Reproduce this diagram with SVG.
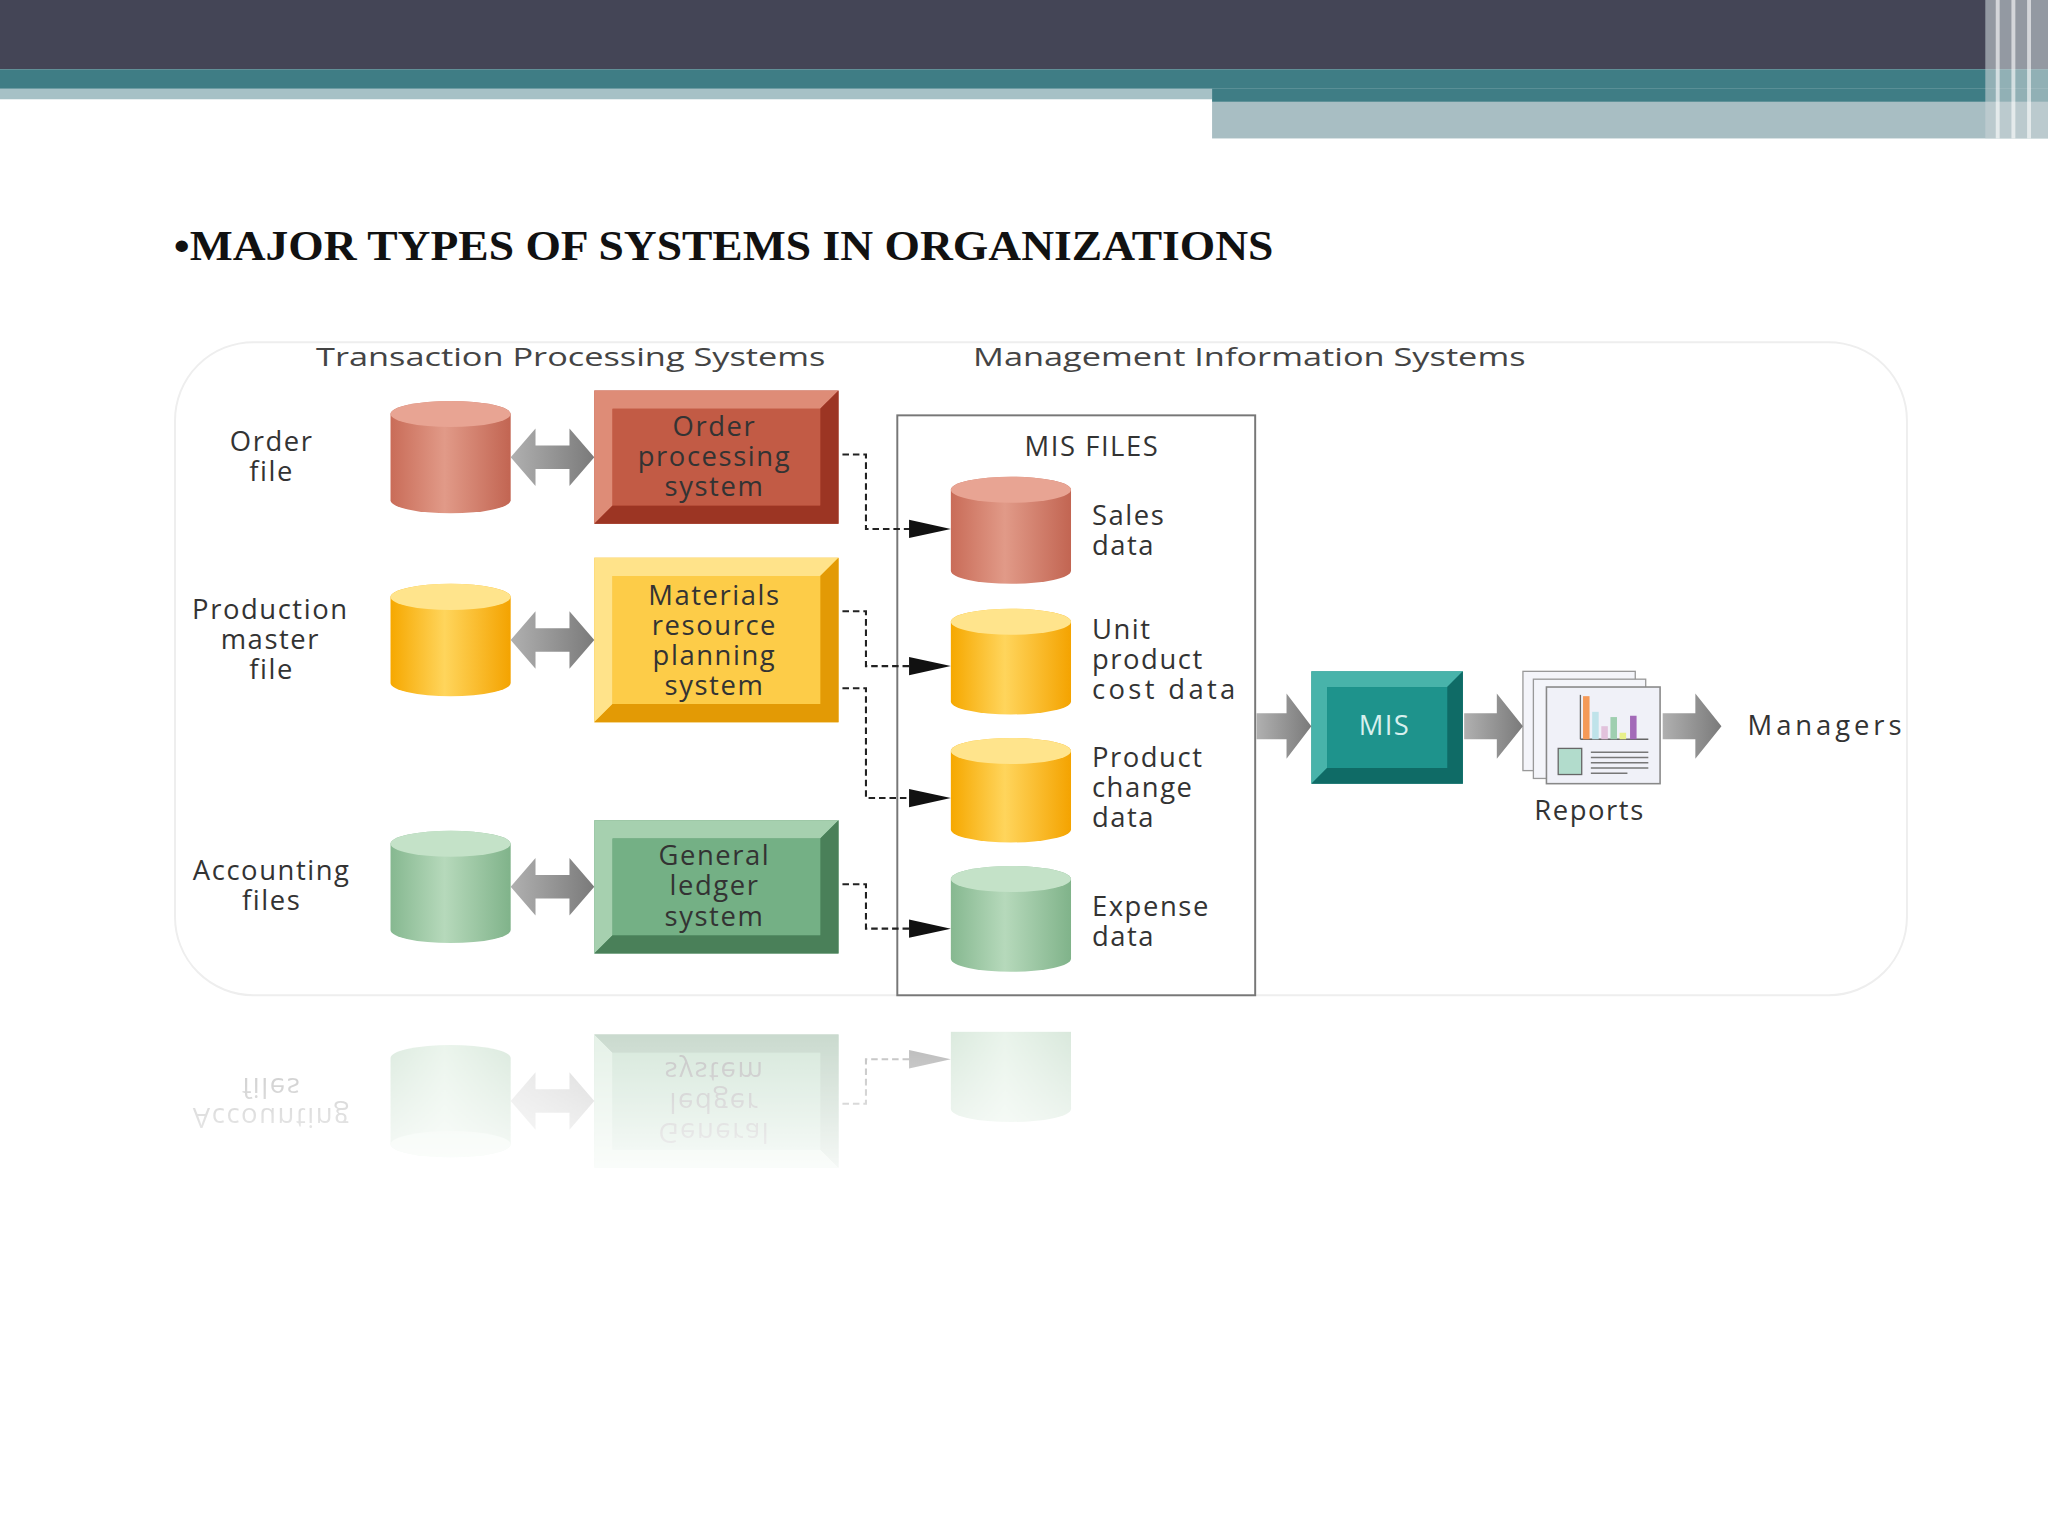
<svg xmlns="http://www.w3.org/2000/svg" xmlns:xlink="http://www.w3.org/1999/xlink" width="2048" height="1536" viewBox="0 0 2048 1536">
<defs>
<style>
.t{font-family:"Open Sans","DejaVu Sans",sans-serif;font-size:21px;letter-spacing:1.2px;fill:#333;text-anchor:middle}
.tl{font-family:"Open Sans","DejaVu Sans",sans-serif;font-size:21px;letter-spacing:1.2px;fill:#333}
.h{font-family:"Open Sans","DejaVu Sans",sans-serif;font-size:20px;fill:#444}
.dash{fill:none;stroke:#222;stroke-width:1.6;stroke-dasharray:5 3}
.ga{fill:url(#gg)}
</style>
<linearGradient id="cr" x1="0" x2="1"><stop offset="0" stop-color="#c96c58"/><stop offset="0.45" stop-color="#e19a88"/><stop offset="1" stop-color="#c26552"/></linearGradient>
<linearGradient id="cy" x1="0" x2="1"><stop offset="0" stop-color="#f6a800"/><stop offset="0.45" stop-color="#ffd55c"/><stop offset="1" stop-color="#f4a300"/></linearGradient>
<linearGradient id="cg" x1="0" x2="1"><stop offset="0" stop-color="#86b890"/><stop offset="0.45" stop-color="#b6d9bb"/><stop offset="1" stop-color="#80b38a"/></linearGradient>
<linearGradient id="gg" x1="0" x2="1"><stop offset="0" stop-color="#b0b0b0"/><stop offset="1" stop-color="#7a7a7a"/></linearGradient>
<linearGradient id="fade" x1="0" y1="0" x2="0" y2="1"><stop offset="0" stop-color="#fff" stop-opacity="0.3"/><stop offset="1" stop-color="#fff" stop-opacity="0"/></linearGradient>
<mask id="rm"><rect x="0" y="790" width="1568" height="130" fill="url(#fade)"/></mask>
</defs>
<g transform="scale(1.30612)">
<rect width="1568" height="1176" fill="#fff"/>
<g id="header">
<rect x="0" y="0" width="1568" height="53" fill="#444556"/>
<rect x="0" y="53" width="1568" height="15" fill="#3f7d85"/>
<rect x="0" y="68" width="928" height="8" fill="#a6c1c6"/>
<rect x="928" y="68" width="640" height="10" fill="#3f7d85"/>
<rect x="928" y="78" width="640" height="28" fill="#a8bec3"/>
<rect x="1520" y="0" width="48" height="106" fill="#c8d2d6" opacity="0.6"/>
<rect x="1528" y="0" width="3" height="106" fill="#fff" opacity="0.6"/>
<rect x="1540" y="0" width="3" height="106" fill="#fff" opacity="0.6"/>
<rect x="1552" y="0" width="3" height="106" fill="#fff" opacity="0.6"/>
</g>
<text x="133" y="199" textLength="842" lengthAdjust="spacingAndGlyphs" style="font-family:'Liberation Serif',serif;font-weight:bold;font-size:32px;fill:#111">•MAJOR TYPES OF SYSTEMS IN ORGANIZATIONS</text>
<rect x="134" y="262" width="1326" height="500" rx="60" fill="#fff" stroke="#eeeeee" stroke-width="1.5"/>
<text class="h" x="242" y="280" textLength="390" lengthAdjust="spacingAndGlyphs">Transaction Processing Systems</text>
<text class="h" x="745" y="280" textLength="423" lengthAdjust="spacingAndGlyphs">Management Information Systems</text>

<g id="diagram">
<g id="orderfile">
<text class="t" x="208" y="345">Order</text><text class="t" x="208" y="368">file</text>
<path d="M299,317 a46,10 0 0,1 92,0 v66 a46,10 0 0,1 -92,0 z" fill="url(#cr)"/>
<ellipse cx="345" cy="317" rx="46" ry="10" fill="#e8a493"/>
</g>
<g id="orderproc">
<rect x="455" y="299" width="187" height="102" fill="#b84a37"/>
<polygon points="455,299 642,299 628,313 469,313 469,387 455,401" fill="#de8c77"/>
<polygon points="642,299 642,401 455,401 469,387 628,387 628,313" fill="#9c3523"/>
<rect x="469" y="313" width="159" height="74" fill="#c25b45"/>
<text class="t" x="547" y="334">Order</text><text class="t" x="547" y="357">processing</text><text class="t" x="547" y="380">system</text>
</g>
<g id="prodfile">
<text class="t" x="207" y="474">Production</text><text class="t" x="207" y="497">master</text><text class="t" x="208" y="520">file</text>
<path d="M299,457 a46,10 0 0,1 92,0 v66 a46,10 0 0,1 -92,0 z" fill="url(#cy)"/>
<ellipse cx="345" cy="457" rx="46" ry="10" fill="#ffe48c"/>
</g>
<g id="mrp">
<rect x="455" y="427" width="187" height="126" fill="#f5b422"/>
<polygon points="455,427 642,427 628,441 469,441 469,539 455,553" fill="#ffe38a"/>
<polygon points="642,427 642,553 455,553 469,539 628,539 628,441" fill="#e39a05"/>
<rect x="469" y="441" width="159" height="98" fill="#fdcc48"/>
<text class="t" x="547" y="463">Materials</text><text class="t" x="547" y="486">resource</text><text class="t" x="547" y="509">planning</text><text class="t" x="547" y="532">system</text>
</g>
<g id="accfiles">
<text class="t" x="208" y="674">Accounting</text><text class="t" x="208" y="697">files</text>
<path d="M299,646 a46,10 0 0,1 92,0 v66 a46,10 0 0,1 -92,0 z" fill="url(#cg)"/>
<ellipse cx="345" cy="646" rx="46" ry="10" fill="#c4e2c8"/>
</g>
<g id="gl">
<rect x="455" y="628" width="187" height="102" fill="#5f9b71"/>
<polygon points="455,628 642,628 628,642 469,642 469,716 455,730" fill="#a6d0af"/>
<polygon points="642,628 642,730 455,730 469,716 628,716 628,642" fill="#4a8059"/>
<rect x="469" y="642" width="159" height="74" fill="#74b085"/>
<text class="t" x="547" y="662">General</text><text class="t" x="547" y="685">ledger</text><text class="t" x="547" y="709">system</text>
</g>
<g id="misfiles">
<rect x="687" y="318" width="274" height="444" fill="#fff" stroke="#777" stroke-width="1.5"/>
<text class="t" x="836" y="349">MIS FILES</text>
<path d="M728,375 a46,10 0 0,1 92,0 v62 a46,10 0 0,1 -92,0 z" fill="url(#cr)"/>
<ellipse cx="774" cy="375" rx="46" ry="10" fill="#e8a493"/>
<text class="tl" x="836" y="402">Sales</text><text class="tl" x="836" y="425">data</text>
<path d="M728,476 a46,10 0 0,1 92,0 v61 a46,10 0 0,1 -92,0 z" fill="url(#cy)"/>
<ellipse cx="774" cy="476" rx="46" ry="10" fill="#ffe48c"/>
<text class="tl" x="836" y="489">Unit</text><text class="tl" x="836" y="512">product</text><text class="tl" x="836" y="535" textLength="111">cost data</text>
<path d="M728,575 a46,10 0 0,1 92,0 v60 a46,10 0 0,1 -92,0 z" fill="url(#cy)"/>
<ellipse cx="774" cy="575" rx="46" ry="10" fill="#ffe48c"/>
<text class="tl" x="836" y="587">Product</text><text class="tl" x="836" y="610">change</text><text class="tl" x="836" y="633">data</text>
<path d="M728,673 a46,10 0 0,1 92,0 v61 a46,10 0 0,1 -92,0 z" fill="url(#cg)"/>
<ellipse cx="774" cy="673" rx="46" ry="10" fill="#c4e2c8"/>
<text class="tl" x="836" y="701">Expense</text><text class="tl" x="836" y="724">data</text>
</g>
<g id="mis">
<rect x="1004" y="514" width="116" height="86" fill="#1d8a84"/>
<polygon points="1004,514 1120,514 1108,526 1016,526 1016,588 1004,600" fill="#48b3aa"/>
<polygon points="1120,514 1120,600 1004,600 1016,588 1108,588 1108,526" fill="#0f6b66"/>
<rect x="1016" y="526" width="92" height="62" fill="#1e938c"/>
<text x="1060" y="563" style="font-family:'Open Sans','DejaVu Sans',sans-serif;font-size:21px;letter-spacing:1px;fill:#d8f0ee;text-anchor:middle">MIS</text>
</g>
<g id="reports">
<rect x="1166" y="514" width="86" height="76" fill="#f4f5fa" stroke="#999" stroke-width="1"/>
<rect x="1174" y="520" width="86" height="76" fill="#f4f5fa" stroke="#999" stroke-width="1"/>
<rect x="1184" y="526" width="87" height="74" fill="#f0f1f8" stroke="#888" stroke-width="1.2"/>
<line x1="1210" y1="532" x2="1210" y2="566" stroke="#666"/>
<line x1="1210" y1="566" x2="1262" y2="566" stroke="#666"/>
<rect x="1212" y="533" width="5" height="33" fill="#f59a58"/>
<rect x="1219" y="545" width="5" height="21" fill="#bfe3ea"/>
<rect x="1226" y="556" width="5" height="10" fill="#e2c2dc"/>
<rect x="1233" y="549" width="5" height="17" fill="#9fcfb0"/>
<rect x="1240" y="561" width="5" height="5" fill="#e8f08a"/>
<rect x="1248" y="548" width="5" height="18" fill="#a36ab8"/>
<rect x="1193" y="573" width="18" height="20" fill="#b2dccc" stroke="#666"/>
<g stroke="#777" stroke-width="1.2"><line x1="1218" y1="576" x2="1262" y2="576"/><line x1="1218" y1="580" x2="1262" y2="580"/><line x1="1218" y1="584" x2="1262" y2="584"/><line x1="1218" y1="588" x2="1262" y2="588"/><line x1="1218" y1="592" x2="1246" y2="592"/></g>
<text class="t" x="1217" y="628">Reports</text>
</g>
<text class="tl" x="1338" y="563" textLength="119">Managers</text>
</g>

<g id="connectors">
<polygon class="ga" points="391,350 410,328 410,341 436,341 436,328 455,350 436,372 436,359 410,359 410,372"/>
<polygon class="ga" points="391,490 410,468 410,481 436,481 436,468 455,490 436,512 436,499 410,499 410,512"/>
<polygon class="ga" points="391,679 410,657 410,670 436,670 436,657 455,679 436,701 436,688 410,688 410,701"/>
<path class="dash" d="M645,348 H663 V405 H700"/>
<path class="dash" d="M645,468 H663 V510 H700"/>
<path class="dash" d="M645,527 H663 V611 H700"/>
<path class="dash" d="M645,677 H663 V711 H700"/>
<polygon points="696,398 728,405 696,412" fill="#111"/>
<polygon points="696,503 728,510 696,517" fill="#111"/>
<polygon points="696,604 728,611 696,618" fill="#111"/>
<polygon points="696,704 728,711 696,718" fill="#111"/>
<polygon class="ga" points="962,546 985,546 985,531 1004,556 985,581 985,566 962,566"/>
<polygon class="ga" points="1121,546 1146,546 1146,531 1166,556 1146,581 1146,566 1121,566"/>
<polygon class="ga" points="1273,546 1298,546 1298,531 1318,556 1298,581 1298,566 1273,566"/>
</g>
<g mask="url(#rm)">
<g transform="translate(0,1522) scale(1,-1)">
<use xlink:href="#accfiles"/>
<use xlink:href="#gl"/>
<polygon class="ga" points="391,679 410,657 410,670 436,670 436,657 455,679 436,701 436,688 410,688 410,701"/>
<path class="dash" d="M645,677 H663 V711 H700"/>
<polygon points="696,704 728,711 696,718" fill="#111"/>
<path d="M728,673 a46,10 0 0,1 92,0 v61 a46,10 0 0,1 -92,0 z" fill="url(#cg)"/>
</g>
</g>
</g>
</svg>
